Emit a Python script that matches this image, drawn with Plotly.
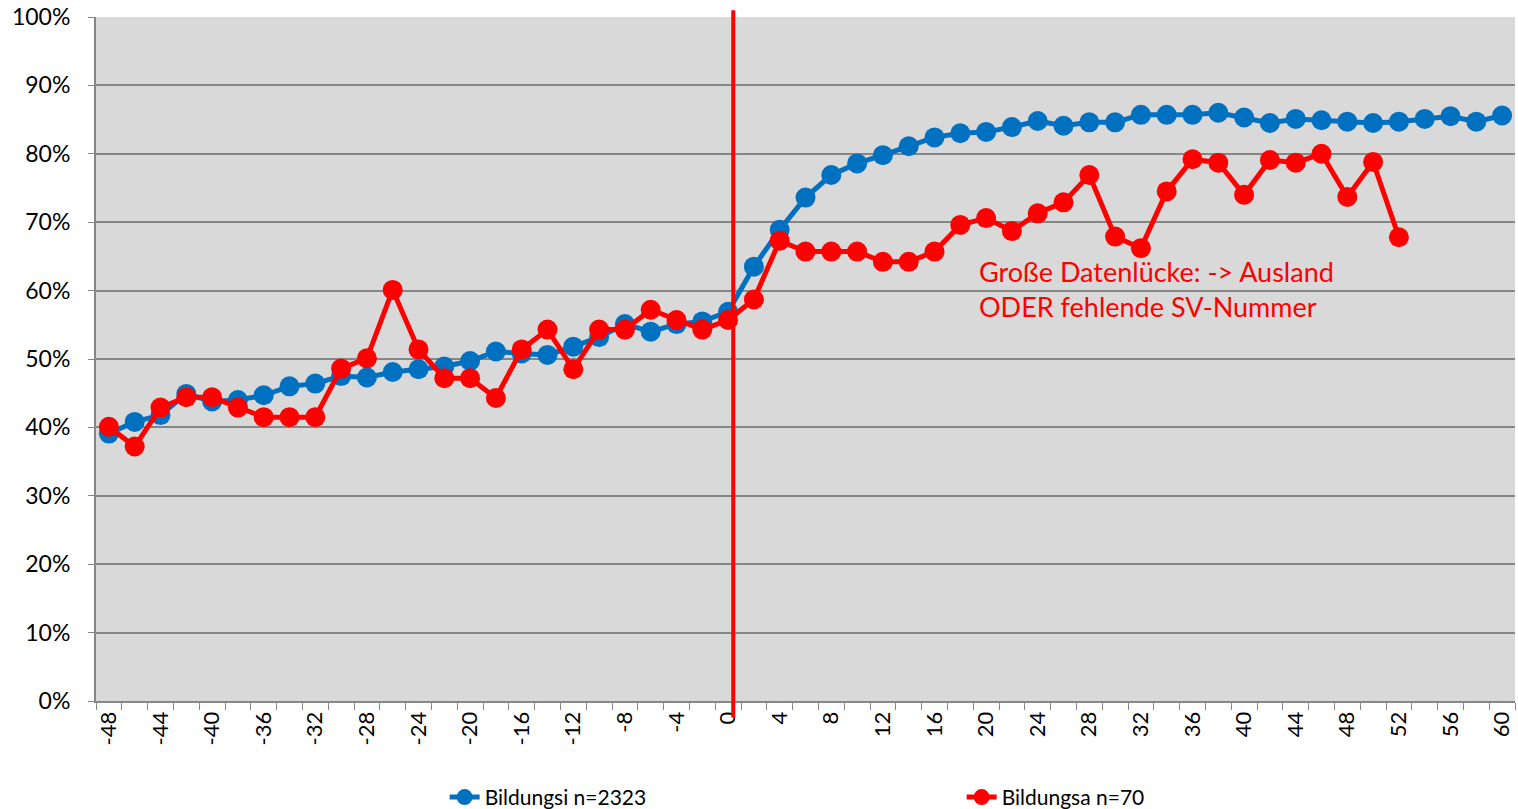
import plotly.graph_objects as go

# Monate relativ zum Ereignis
monate = list(range(-48, 61, 2))

# Anteil Bildungsi (n=2323)
bildungsi = [0.391, 0.408, 0.418, 0.449, 0.438, 0.440, 0.447, 0.460, 0.464, 0.475,
             0.473, 0.481, 0.485, 0.489, 0.497, 0.511, 0.508, 0.506, 0.518, 0.532,
             0.551, 0.540, 0.551, 0.555, 0.569, 0.635, 0.689, 0.736, 0.769, 0.786,
             0.798, 0.811, 0.824, 0.830, 0.832, 0.839, 0.848, 0.841, 0.846, 0.846,
             0.857, 0.857, 0.857, 0.860, 0.853, 0.845, 0.851, 0.849, 0.847, 0.845,
             0.847, 0.851, 0.855, 0.847, 0.856]

# Anteil Bildungsa (n=70), endet bei Monat 52
bildungsa = [0.401, 0.372, 0.429, 0.444, 0.444, 0.429, 0.415, 0.415, 0.415, 0.486,
             0.501, 0.601, 0.514, 0.472, 0.472, 0.443, 0.514, 0.543, 0.485, 0.543,
             0.543, 0.572, 0.557, 0.543, 0.557, 0.587, 0.673, 0.657, 0.657, 0.657,
             0.642, 0.642, 0.657, 0.696, 0.706, 0.687, 0.713, 0.729, 0.769, 0.679,
             0.662, 0.745, 0.792, 0.787, 0.740, 0.791, 0.787, 0.800, 0.737, 0.788,
             0.678]

y_ticks = [i / 10 for i in range(11)]
x_ticks = list(range(-48, 61, 4))

BLAU = "#0070c0"
ROT = "#ff0000"
GRAU = "#868686"
FONT = "Lato"

fig = go.Figure()
fig.add_trace(go.Scatter(
    x=monate, y=bildungsi, mode="lines+markers", name="Bildungsi n=2323",
    line=dict(color=BLAU, width=5), marker=dict(color=BLAU, size=20),
))
fig.add_trace(go.Scatter(
    x=monate[:len(bildungsa)], y=bildungsa, mode="lines+markers", name="Bildungsa n=70",
    line=dict(color=ROT, width=5), marker=dict(color=ROT, size=20),
))

# senkrechte Linie beim Ereignis
fig.add_shape(type="line", xref="x", yref="paper", x0=0.4, x1=0.4, y0=-0.024, y1=1.01,
              line=dict(color=ROT, width=4), layer="above")

fig.add_annotation(
    x=0.6206, y=0.655, xref="paper", yref="paper", xanchor="left", yanchor="top",
    text="Große Datenlücke: -> Ausland<br>ODER fehlende SV-Nummer",
    showarrow=False, align="left", font=dict(family=FONT, size=27, color=ROT),
)

fig.update_layout(
    width=1518, height=809,
    margin=dict(l=96, r=3, t=17, b=108, autoexpand=False),
    paper_bgcolor="white", plot_bgcolor="#d9d9d9",
    font=dict(family=FONT, color="black"),
    legend=dict(orientation="h", x=0.2457, y=-0.111, xanchor="left", yanchor="top",
                entrywidth=472, entrywidthmode="pixels",
                font=dict(family=FONT, size=21), bgcolor="rgba(0,0,0,0)"),
)
fig.update_xaxes(
    range=[-49, 61], tickvals=x_ticks, ticktext=[str(v) for v in x_ticks],
    tickangle=-90, tickfont=dict(size=22), ticks="", showgrid=False, zeroline=False,
    showline=True, linecolor=GRAU, linewidth=2, automargin=False,
    minor=dict(tick0=-49, dtick=2, ticks="outside", ticklen=7, tickcolor=GRAU, showgrid=False),
)
fig.update_yaxes(
    range=[0, 1], tickvals=y_ticks, tickformat=".0%", tickfont=dict(size=23),
    ticks="outside", ticklen=6, tickcolor=GRAU, ticklabelstandoff=13,
    showgrid=True, gridcolor=GRAU, gridwidth=2,
    zeroline=False, showline=True, linecolor=GRAU, linewidth=2, automargin=False,
)

# body-Rand entfernen, damit die Figur genau das Fenster füllt
fig.write_html("out.html", config={"displayModeBar": False},
               post_script="document.body.style.margin='0';")
